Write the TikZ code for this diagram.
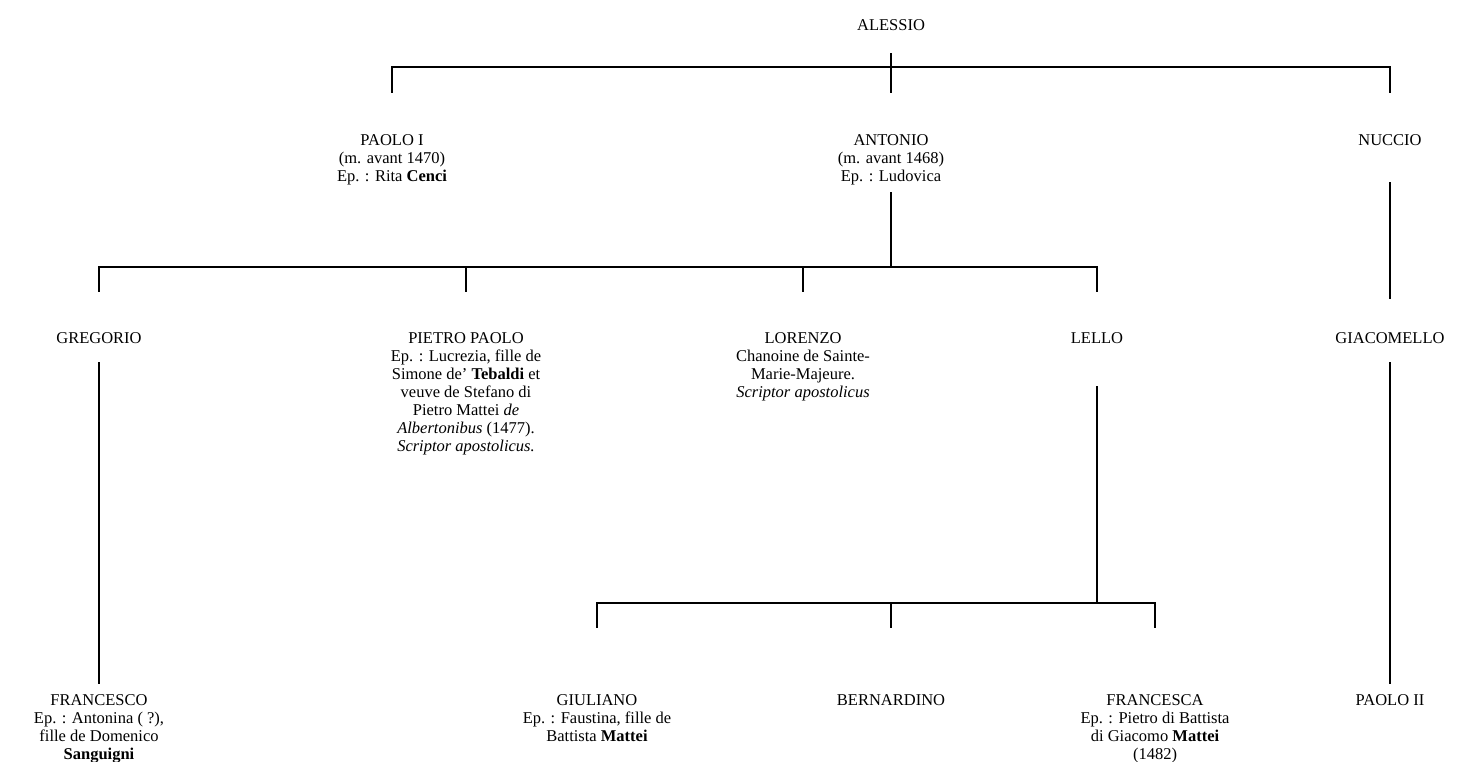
\documentclass[tikz,border=0pt]{standalone}
\usepackage{fontspec}
\setmainfont{Liberation Serif}
\begin{document}
\begin{tikzpicture}[x=1pt,y=-1pt,
  person/.style={align=center, inner sep=0pt, anchor=north, font=\fontsize{16.5}{18}\selectfont},
  link/.style={line width=1.8pt, line cap=rect}]
\useasboundingbox (0,0) rectangle (1466,762);
% level 0
\node[person] (alessio) at (891,19.5) {ALESSIO};
% level 1
\node[person] (paolo1) at (392,134.5) {PAOLO I\\(m. avant 1470)\\Ep. : Rita \textbf{Cenci}};
\node[person] (antonio) at (891,134.5) {ANTONIO\\(m. avant 1468)\\Ep. : Ludovica};
\node[person] (nuccio) at (1390,134.5) {NUCCIO};
% level 2
\node[person] (gregorio) at (99,332.5) {GREGORIO};
\node[person] (pietro) at (466,332.5) {PIETRO PAOLO\\Ep. : Lucrezia, fille de\\Simone de’ \textbf{Tebaldi} et\\veuve de Stefano di\\Pietro Mattei \textit{de}\\\textit{Albertonibus} (1477).\\\textit{Scriptor apostolicus.}};
\node[person] (lorenzo) at (803,332.5) {LORENZO\\Chanoine de Sainte-\\Marie-Majeure.\\\textit{Scriptor apostolicus}};
\node[person] (lello) at (1097,332.5) {LELLO};
\node[person] (giacomello) at (1390,332.5) {GIACOMELLO};
% level 3
\node[person] (francesco) at (99,694.5) {FRANCESCO\\Ep. : Antonina ( ?),\\fille de Domenico\\\textbf{Sanguigni}};
\node[person] (giuliano) at (597,694.5) {GIULIANO\\Ep. : Faustina, fille de\\Battista \textbf{Mattei}};
\node[person] (bernardino) at (891,694.5) {BERNARDINO};
\node[person] (francesca) at (1155,694.5) {FRANCESCA\\Ep. : Pietro di Battista\\di Giacomo \textbf{Mattei}\\(1482)};
\node[person] (paolo2) at (1390,694.5) {PAOLO II};
% connector coordinates
\coordinate (a-top) at (891,54);
\coordinate (a-bot) at (891,92);
\coordinate (b1-l) at (392,67);
\coordinate (b1-r) at (1390,67);
\coordinate (p1-drop) at (392,92);
\coordinate (n-drop) at (1390,92);
\coordinate (ant-top) at (891,193);
\coordinate (b2-m) at (891,267);
\coordinate (b2-l) at (99,267);
\coordinate (b2-r) at (1097,267);
\coordinate (g-drop) at (99,291);
\coordinate (pp-drop) at (466,291);
\coordinate (lo-drop) at (803,291);
\coordinate (le-drop) at (1097,291);
\coordinate (nu-top) at (1390,183);
\coordinate (nu-bot) at (1390,298);
\coordinate (gr-top) at (99,363);
\coordinate (gr-bot) at (99,683);
\coordinate (gi-top) at (1390,363);
\coordinate (gi-bot) at (1390,683);
\coordinate (le-top) at (1097,387);
\coordinate (b3-m) at (1097,603);
\coordinate (b3-l) at (597,603);
\coordinate (b3-r) at (1155,603);
\coordinate (gu-drop) at (597,627);
\coordinate (be-top) at (891,603);
\coordinate (be-drop) at (891,627);
\coordinate (fa-drop) at (1155,627);
% connectors
\draw[link] (a-top) -- (a-bot);
\draw[link] (p1-drop) -- (b1-l) -- (b1-r) -- (n-drop);
\draw[link] (ant-top) -- (b2-m);
\draw[link] (g-drop) -- (b2-l) -- (b2-r) -- (le-drop);
\draw[link] (pp-drop |- b2-l) -- (pp-drop);
\draw[link] (lo-drop |- b2-l) -- (lo-drop);
\draw[link] (nu-top) -- (nu-bot);
\draw[link] (gr-top) -- (gr-bot);
\draw[link] (gi-top) -- (gi-bot);
\draw[link] (le-top) -- (b3-m);
\draw[link] (gu-drop) -- (b3-l) -- (b3-r) -- (fa-drop);
\draw[link] (be-top) -- (be-drop);
\end{tikzpicture}
\end{document}
